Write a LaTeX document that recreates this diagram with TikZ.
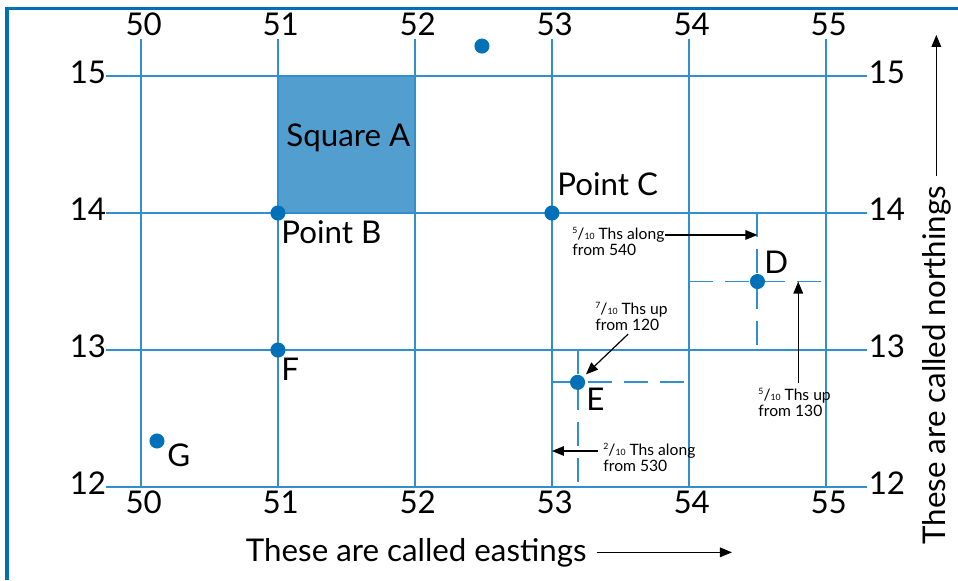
\documentclass[tikz,border=0pt]{standalone}
\usepackage{fontspec}
\setmainfont{Lato}
\usetikzlibrary{positioning,arrows.meta}
\definecolor{gridblue}{RGB}{50,143,205}
\definecolor{frameblue}{RGB}{0,112,184}
\definecolor{dotblue}{RGB}{0,112,184}
\definecolor{sqfill}{RGB}{82,158,206}
\newcommand{\tenths}[1]{{\fontsize{3.6}{4}\selectfont\raisebox{2.4pt}{#1}}/{\fontsize{3.6}{4}\selectfont 10}}

\begin{document}
\begin{tikzpicture}[x=2cm, y=2cm,
        gridln/.style={gridblue, line width=0.8pt},
        dashln/.style={gridblue, line width=0.8pt, dash pattern=on 10pt off 5pt},
        dot/.style={circle, fill=dotblue, inner sep=0pt, minimum size=2.2mm},
        num/.style={font=\fontsize{13}{15}\selectfont, inner sep=0pt},
        lbl/.style={font=\fontsize{13}{15}\selectfont, inner sep=0pt, anchor=base west},
        note/.style={font=\fontsize{6.5}{6.5}\selectfont, inner sep=0pt, anchor=north west, align=left},
        arr/.style={-{Triangle[length=5pt,width=4pt]}, black, line width=0.5pt}
    ]
    \useasboundingbox (-1.029,-0.679) rectangle (5.964,3.555);

    % Frame
    \draw[frameblue, line width=1.6pt] (5.964,3.493) -- (-0.978,3.493) -- (-0.978,-0.679);

    % Square A
    \fill[sqfill] (1,2) rectangle (2,3);

    % Grid lines
    \foreach \e in {0,...,5} \draw[gridln] (\e,0) -- (\e,3.27);
    \foreach \n in {0,...,3} \draw[gridln] (-0.255,\n) -- (5.30,\n);

    % Eastings and northings
    \foreach \e/\lab in {0/50,1/51,2/52,3/53,4/54,5/55} {
        \node[num] (top\lab) at (\e+0.02,3.376) {\lab};
        \node[num] (bot\lab) at (\e+0.02,-0.113) {\lab};
    }
    \foreach \n/\lab in {0/12,1/13,2/14,3/15} {
        \node[num] (left\lab) at (-0.387,\n+0.03) {\lab};
        \node[num] (right\lab) at (5.445,\n+0.03) {\lab};
    }

    % Dashed tenths lines
    \draw[dashln] (4.5,2) -- (4.5,1);
    \draw[dashln] (4,1.5) -- (5,1.5);
    \draw[dashln] (3.187,1) -- (3.187,0);
    \draw[dashln] (3,0.764) -- (4,0.764);

    % Points
    \node[dot] (T) at (2.489,3.219) {};
    \node[dot] (B) at (1,2) {};
    \node[dot] (C) at (3,2) {};
    \node[dot] (F) at (1,1) {};
    \node[dot] (G) at (0.117,0.336) {};
    \node[dot] (D) at (4.5,1.5) {};
    \node[dot] (E) at (3.187,0.764) {};

    \node[lbl] (sqA) at (1.058,2.482) {Square A};
    \node[lbl] (Blbl) at (1.022,1.781) {Point B};
    \node[lbl] (Clbl) at (3.036,2.131) {Point C};
    \node[lbl] (Flbl) at (1.022,0.781) {F};
    \node[lbl] (Glbl) at (0.190,0.153) {G};
    \node[lbl] (Dlbl) at (4.547,1.562) {D};
    \node[lbl] (Elbl) at (3.248,0.562) {E};

    % Notes
    \node[note] (n540) at (3.146,1.898) {\tenths{5} Ths along\\from 540};
    \node[note] (n120) at (3.314,1.350) {\tenths{7} Ths up\\from 120};
    \node[note] (n130) at (4.504,0.723) {\tenths{5} Ths up\\from 130};
    \node[note] (n530) at (3.372,0.321) {\tenths{2} Ths along\\from 530};

    \draw[arr] ([yshift=-3.3pt]n540.north east) -- ([yshift=-3.3pt]n540.north east -| D);
    \draw[arr, shorten <=2pt, shorten >=1.5pt] (n120.south) -- (E);
    \draw[arr, shorten <=2pt] ([xshift=1.5pt]n130.north) -- ([xshift=1.5pt]n130.north |- D);
    \draw[arr] ([xshift=-2pt,yshift=-3.3pt]n530.north west) -- ([yshift=-3.3pt]n530.north west -| C);

    % Axis titles
    \node[lbl] (elab) at (0.763,-0.540) {These are called eastings};
    \coordinate (etip) at (4.314,0);
    \draw[arr] ([xshift=4pt]elab.east) -- (elab.east -| etip);

    \node[lbl, rotate=90] (nlab) at (5.869,-0.423) {These are called northings};
    \coordinate (ntip) at (5.84,3.30);
    \draw[arr] ([yshift=4pt]nlab.east) -- (nlab.east |- ntip);
\end{tikzpicture}
\end{document}
